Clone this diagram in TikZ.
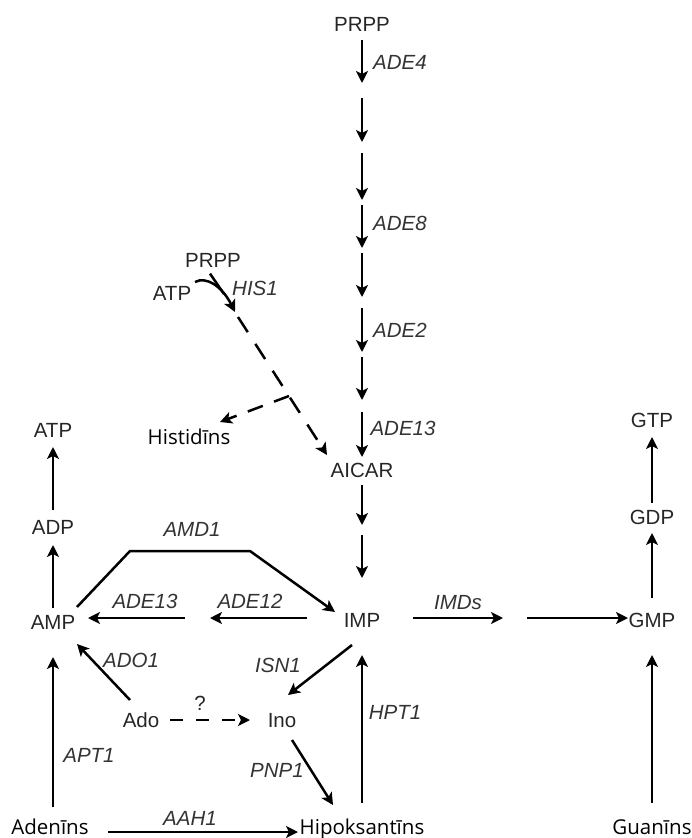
\documentclass[tikz,border=0pt]{standalone}
\usepackage{fontspec}
\setmainfont{Liberation Sans}
\newfontfamily\lvfont{Open Sans}
\usetikzlibrary{arrows.meta}
\begin{document}
\begin{tikzpicture}[x=1pt,y=-1pt,
  met/.style={font=\fontsize{20.5}{24}\selectfont, inner sep=0pt, text height=14.8pt, text depth=0pt, text=black!85},
  gene/.style={font=\fontsize{20.5}{24}\selectfont\itshape, inner sep=0pt, text height=14.8pt, text depth=0pt, text=black!80},
  lv/.style={font=\lvfont\fontsize{20.5}{24}\selectfont, inner sep=0pt, text height=14.8pt, text depth=0pt},
  arr/.style={line width=2.5pt, -{Stealth[length=12pt,width=12pt,inset=3pt]}},
  ln/.style={line width=2.5pt},
  dsh/.style={arr, dash pattern=on 18pt off 14pt},
  dsho/.style={arr, dash pattern=on 13pt off 13pt},
]
\useasboundingbox (0,0) rectangle (691,838);

% metabolites
\node[met] (prpp) at (362,24) {PRPP};
\node[met] (prpp2) at (213,260) {PRPP};
\node[met] (atp2) at (172,293) {ATP};
\node[lv] (his) at (189,437) {Histidīns};
\node[met] (aicar) at (362,470) {AICAR};
\node[met] (imp) at (362,620) {IMP};
\node[met] (atp) at (53,430) {ATP};
\node[met] (adp) at (53,527) {ADP};
\node[met] (amp) at (53,622) {AMP};
\node[met] (gtp) at (652,420) {GTP};
\node[met] (gdp) at (652,517) {GDP};
\node[met] (gmp) at (652,620) {GMP};
\node[met] (ado) at (141,720) {Ado};
\node[met] (ino) at (282,720) {Ino};
\node[lv] (aden) at (50,827) {Adenīns};
\node[lv] (hipo) at (362,827) {Hipoksantīns};
\node[lv] (guan) at (652,827) {Guanīns};

% gene labels
\node[gene] (lade4) at (400,62) {ADE4};
\node[gene] (lade8) at (400,223) {ADE8};
\node[gene] (lade2) at (400,330) {ADE2};
\node[gene] (lade13) at (403,428) {ADE13};
\node[gene] (lhis1) at (255,288) {HIS1};
\node[gene] (lamd1) at (192,529) {AMD1};
\node[gene] (lade13b) at (145,601) {ADE13};
\node[gene] (lade12) at (250,601) {ADE12};
\node[gene] (limds) at (458,602) {IMDs};
\node[gene] (lisn1) at (278,665) {ISN1};
\node[gene] (lado1) at (131,660) {ADO1};
\node[met] (lq) at (200,703) {?};
\node[gene] (lhpt1) at (395,712) {HPT1};
\node[gene] (lapt1) at (89,755) {APT1};
\node[gene] (lpnp1) at (277,770) {PNP1};
\node[gene] (laah1) at (190,818) {AAH1};

% main de novo chain
\foreach \i/\s/\e in {1/40/83,2/98/142,3/153/200,4/205/248,5/253/297,6/308/352,7/357/400,8/412/457,9/485/525,10/535/578}{
  \coordinate (cs\i) at (362,\s);
  \coordinate (ce\i) at (362,\e);
  \draw[arr] (cs\i) -- (ce\i);
}

% HIS1 branch
\coordinate (his1s) at (195,282);
\coordinate (his1e) at (235,312);
\coordinate (prppj) at (224,294);
\draw[ln] ([xshift=-3pt,yshift=-6pt]prpp2.south) -- (prppj);
\draw[arr] (his1s) .. controls (206,276) and (222,286) .. (his1e);
\coordinate (ds) at (238,317);
\coordinate (dtip) at (327,455);
\coordinate (bend) at (289,396);
\coordinate (histip) at (220,422);
\draw[dsh] (ds) -- (dtip);
\draw[dsh, dash pattern=on 16pt off 12pt] (bend) -- (histip);

% left column
\coordinate (adpTop) at (53,510); \coordinate (atpBot) at (53,447);
\draw[arr] (adpTop) -- (atpBot);
\coordinate (ampTop) at (53,608); \coordinate (adpBot) at (53,545);
\draw[arr] (ampTop) -- (adpBot);

% AMD1
\coordinate (amd0) at (77,607);
\coordinate (amd1) at (130,551);
\coordinate (amd2) at (250,551);
\coordinate (amd3) at (335,612);
\draw[arr] (amd0) -- (amd1) -- (amd2) -- (amd3);

% ADE12 / ADE13
\coordinate (a12s) at (307,618); \coordinate (a12e) at (210,618);
\coordinate (a13s) at (185,618); \coordinate (a13e) at (88,618);
\draw[arr] (a12s) -- (a12e);
\draw[arr] (a13s) -- (a13e);

% IMDs
\coordinate (i1s) at (413,618); \coordinate (i1e) at (503,618);
\coordinate (i2s) at (527,618); \coordinate (i2e) at (628,618);
\draw[arr] (i1s) -- (i1e);
\draw[arr] (i2s) -- (i2e);

% right column
\coordinate (gdpTop) at (652,503); \coordinate (gtpBot) at (652,437);
\draw[arr] (gdpTop) -- (gtpBot);
\coordinate (gmpTop) at (652,598); \coordinate (gdpBot) at (652,533);
\draw[arr] (gmpTop) -- (gdpBot);

% salvage
\coordinate (isn1s) at (352,645); \coordinate (isn1e) at (288,695);
\draw[arr] (isn1s) -- (isn1e);
\coordinate (ado1s) at (130,700); \coordinate (ado1e) at (77,644);
\draw[arr] (ado1s) -- (ado1e);
\coordinate (qs) at (170,720); \coordinate (qe) at (250,720);
\draw[dsho] (qs) -- (qe);
\coordinate (pnps) at (292,740); \coordinate (pnpe) at (333,805);
\draw[arr] (pnps) -- (pnpe);
\coordinate (apts) at (53,807); \coordinate (apte) at (53,657);
\draw[arr] (apts) -- (apte);
\coordinate (hpts) at (362,803); \coordinate (hpte) at (362,655);
\draw[arr] (hpts) -- (hpte);
\coordinate (gus) at (652,803); \coordinate (gue) at (652,655);
\draw[arr] (gus) -- (gue);
\coordinate (aahs) at (108,832); \coordinate (aahe) at (298,832);
\draw[arr] (aahs) -- (aahe);
\end{tikzpicture}
\end{document}
